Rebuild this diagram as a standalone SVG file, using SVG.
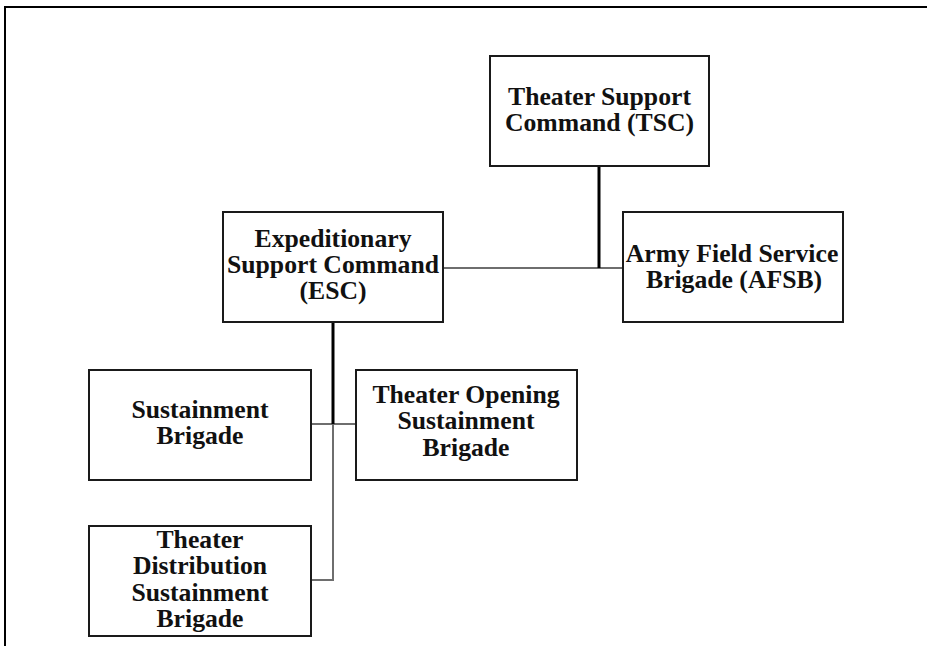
<svg xmlns="http://www.w3.org/2000/svg" width="927" height="646" viewBox="0 0 927 646">
<style>
.box{fill:#fff;stroke:#1a1a1a;stroke-width:2}
.t{font-family:"Liberation Serif","Times New Roman",serif;font-weight:bold;font-size:25.7px;fill:#111;text-anchor:middle}
.main{stroke:#000;stroke-width:3;fill:none}
.sub{stroke:#6e6e6e;stroke-width:2;fill:none}
</style>
<rect x="0" y="0" width="927" height="646" fill="#fff"/>
<path d="M5 646 V7 H927" fill="none" stroke="#000" stroke-width="2"/>
<g id="connectors">
<line class="sub" x1="443" y1="268" x2="623" y2="268"/>
<line class="main" x1="599" y1="167" x2="599" y2="268"/>
<line class="sub" x1="311" y1="424" x2="356" y2="424"/>
<path class="sub" d="M333 424 V580 H311"/>
<line class="main" x1="333" y1="322" x2="333" y2="424"/>
</g>
<g id="tsc">
<rect class="box" x="490" y="56" width="219" height="110"/>
<text class="t" x="599.5" y="105">Theater Support</text>
<text class="t" x="599.5" y="131">Command (TSC)</text>
</g>
<g id="esc">
<rect class="box" x="223" y="212" width="220" height="110"/>
<text class="t" x="333" y="247">Expeditionary</text>
<text class="t" x="333" y="273">Support Command</text>
<text class="t" x="333" y="299">(ESC)</text>
</g>
<g id="afsb">
<rect class="box" x="623" y="212" width="220" height="110"/>
<text class="t" x="732" y="262">Army Field Service</text>
<text class="t" x="734" y="288">Brigade (AFSB)</text>
</g>
<g id="sb">
<rect class="box" x="89" y="370" width="222" height="110"/>
<text class="t" x="200" y="418">Sustainment</text>
<text class="t" x="200" y="444">Brigade</text>
</g>
<g id="tosb">
<rect class="box" x="356" y="370" width="221" height="110"/>
<text class="t" x="466" y="403">Theater Opening</text>
<text class="t" x="466" y="429">Sustainment</text>
<text class="t" x="466" y="456">Brigade</text>
</g>
<g id="tdsb">
<rect class="box" x="89" y="526" width="222" height="110"/>
<text class="t" x="200" y="548">Theater</text>
<text class="t" x="200" y="574">Distribution</text>
<text class="t" x="200" y="601">Sustainment</text>
<text class="t" x="200" y="627">Brigade</text>
</g>
</svg>
